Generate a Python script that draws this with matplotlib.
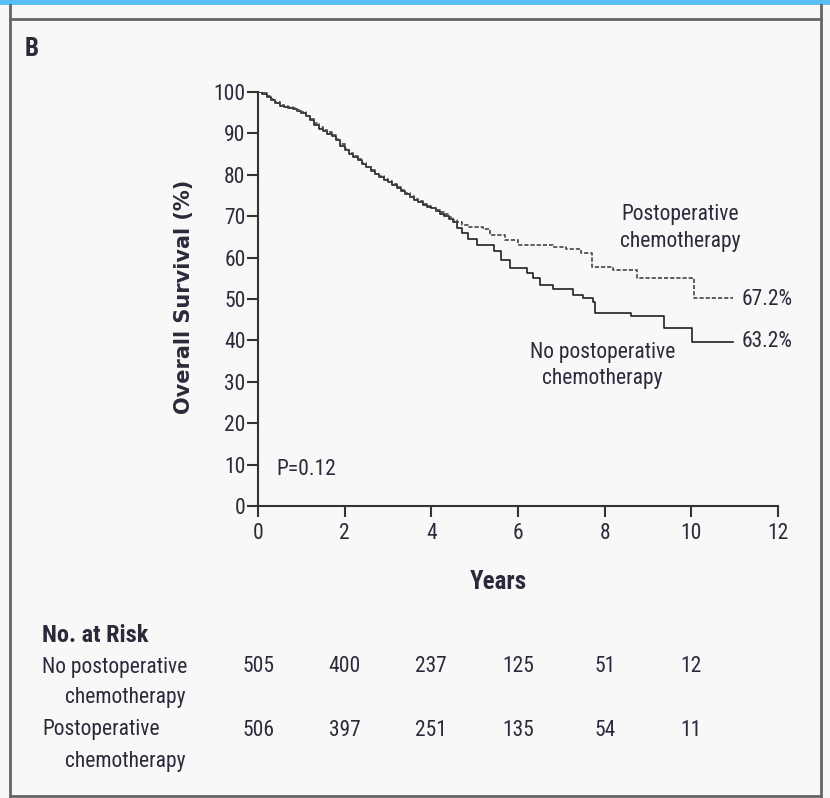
import matplotlib
matplotlib.use("Agg")
import matplotlib.pyplot as plt
from matplotlib import font_manager
from matplotlib.patches import Rectangle
from matplotlib.lines import Line2D
from matplotlib.transforms import blended_transform_factory

# the original uses a condensed face; take the narrowest one that is installed
installed = {f.name for f in font_manager.fontManager.ttflist}
narrow = [n for n in ['Liberation Sans Narrow', 'Roboto Condensed', 'Open Sans Condensed',
                      'DejaVu Sans Condensed', 'Noto Sans Display', 'Roboto', 'Liberation Sans']
          if n in installed]
plt.rcParams['font.family'] = narrow[:1] + ['DejaVu Sans']
plt.rcParams['font.stretch'] = 'condensed'

# curve data (years, % surviving)
t_post = [0, 0.1, 0.2, 0.3, 0.4, 0.5, 0.6, 0.7, 0.8, 0.9, 1.0, 1.1, 1.2, 1.3, 1.4, 1.5,
          1.6, 1.7, 1.8, 1.9, 2.0, 2.1, 2.2, 2.3, 2.4, 2.5, 2.6, 2.7, 2.8, 2.9, 3.0, 3.1,
          3.2, 3.3, 3.4, 3.5, 3.6, 3.7, 3.8, 3.9, 4.0, 4.1, 4.2, 4.3, 4.4, 4.5, 4.6, 4.7,
          4.85, 5.2, 5.36, 5.7, 6.0, 6.8, 7.1, 7.45, 7.7, 8.2, 8.75, 10.05, 10.97]
s_post = [100, 99.7, 99.1, 98.3, 97.5, 96.9, 96.5, 96.4, 96.2, 95.7, 95.1, 94.3, 93.5,
          92.6, 91.6, 90.9, 90.3, 89.6, 88.7, 87.4, 86.2, 85.3, 84.6, 83.7, 82.9, 82.0,
          81.1, 80.3, 79.6, 79.0, 78.4, 77.7, 77.1, 76.3, 75.5, 74.8, 74.1, 73.6, 73.0,
          72.5, 72.1, 71.5, 71.0, 70.5, 69.9, 69.2, 68.5, 67.8, 67.4, 67.0, 65.5, 64.3,
          63.0, 62.6, 62.0, 61.2, 57.8, 57.0, 55.1, 50.2, 50.2]

t_none = [0, 0.1, 0.2, 0.3, 0.4, 0.5, 0.6, 0.7, 0.8, 0.9, 1.0, 1.1, 1.2, 1.3, 1.4, 1.5,
          1.6, 1.7, 1.8, 1.9, 2.0, 2.1, 2.2, 2.3, 2.4, 2.5, 2.6, 2.7, 2.8, 2.9, 3.0, 3.1,
          3.2, 3.3, 3.4, 3.5, 3.6, 3.7, 3.8, 3.9, 4.0, 4.1, 4.2, 4.3, 4.4, 4.5, 4.6, 4.7,
          4.85, 5.06, 5.45, 5.6, 5.82, 6.2, 6.35, 6.5, 6.8, 7.27, 7.5, 7.74, 7.78, 8.6,
          9.38, 10.02, 10.95]
s_none = [100, 99.5, 98.8, 98.0, 97.3, 96.7, 96.3, 96.2, 96.0, 95.5, 94.9, 94.1, 93.3,
          92.1, 91.1, 90.5, 89.9, 89.3, 88.4, 87.0, 85.9, 85.1, 84.4, 83.5, 82.7, 81.8,
          80.9, 80.1, 79.4, 78.8, 78.2, 77.5, 76.9, 76.1, 75.3, 74.6, 73.9, 73.4, 72.8,
          72.3, 71.9, 71.2, 70.6, 70.0, 69.4, 68.5, 67.2, 66.0, 64.5, 63.0, 61.5, 59.4,
          57.5, 56.3, 55.0, 53.3, 52.3, 51.0, 50.2, 49.3, 46.6, 45.8, 43.0, 39.6, 39.6]

risk_years = [0, 2, 4, 6, 8, 10]
risk_none = [505, 400, 237, 125, 51, 12]
risk_post = [506, 397, 251, 135, 54, 11]

txt = '#2a2a3a'
bg = '#f8f8f8'
fs = 15.5

fig = plt.figure(figsize=(8.3, 7.98), dpi=100, facecolor=bg)

# panel frame
fig.add_artist(Rectangle((0, 1 - 5 / 798), 1, 5 / 798, transform=fig.transFigure,
                         color='#5bbff3', lw=0))
for xs, ys in [([10 / 830, 10 / 830], [0, 1 - 5 / 798]),
               ([821 / 830, 821 / 830], [0, 1 - 5 / 798]),
               ([10 / 830, 821 / 830], [1 - 19 / 798, 1 - 19 / 798]),
               ([10 / 830, 821 / 830], [2 / 798, 2 / 798])]:
    fig.add_artist(Line2D(xs, ys, transform=fig.transFigure, color='#666666', lw=2))

fig.text(32 / 830, 1 - 49 / 798, 'B', fontsize=18, fontweight='bold', color=txt,
         va='center', ha='center')

ax = fig.add_axes([258 / 830, 292 / 798, 520 / 830, 414 / 798])
ax.set_facecolor(bg)
ax.step(t_none, s_none, where='post', color='#222222', lw=1.2)
ax.step(t_post, s_post, where='post', color='#444444', lw=1.2, dashes=(2.5, 1.2))

ax.set_xlim(0, 12)
ax.set_ylim(0, 100)
ax.set_xticks(range(0, 13, 2))
ax.set_yticks(range(0, 101, 10))
for s in ['top', 'right']:
    ax.spines[s].set_visible(False)
for s in ['left', 'bottom']:
    ax.spines[s].set_linewidth(1.5)
    ax.spines[s].set_color('#333333')
ax.tick_params(direction='out', length=8, width=1.5, color='#333333',
               labelsize=fs, labelcolor=txt, pad=1)
ax.tick_params(axis='x', pad=4)

ax.text(0.4615, -0.184, 'Years', transform=ax.transAxes, fontsize=18,
        fontweight='bold', color=txt, ha='center', va='center')
ax.text(-0.143, 0.505, 'Overall Survival (%)', transform=ax.transAxes, rotation=90,
        fontsize=15, fontweight='bold', family='DejaVu Sans', stretch='normal',
        color=txt, ha='center', va='center')

ax.text(0.42, 8.7, 'P=0.12', fontsize=fs, color=txt, va='center')
ax.text(9.75, 67.1, 'Postoperative\nchemotherapy', fontsize=fs, color=txt,
        ha='center', va='center', linespacing=1.35)
ax.text(7.95, 33.9, 'No postoperative\nchemotherapy', fontsize=fs, color=txt,
        ha='center', va='center', linespacing=1.35)
ax.text(11.15, 49.8, '67.2%', fontsize=fs, color=txt, va='center')
ax.text(11.15, 39.8, '63.2%', fontsize=fs, color=txt, va='center')

# number at risk table
tr = blended_transform_factory(ax.transData, fig.transFigure)
fig.text(42 / 830, 1 - 635 / 798, 'No. at Risk', fontsize=17.5, fontweight='bold',
         color=txt, va='center')
fig.text(42 / 830, 1 - 667 / 798, 'No postoperative', fontsize=fs, color=txt, va='center')
fig.text(65 / 830, 1 - 697 / 798, 'chemotherapy', fontsize=fs, color=txt, va='center')
fig.text(42 / 830, 1 - 730 / 798, 'Postoperative', fontsize=fs, color=txt, va='center')
fig.text(65 / 830, 1 - 762 / 798, 'chemotherapy', fontsize=fs, color=txt, va='center')
for yr, a, b in zip(risk_years, risk_none, risk_post):
    ax.text(yr, 1 - 667 / 798, str(a), transform=tr, fontsize=fs, color=txt,
            ha='center', va='center')
    ax.text(yr, 1 - 730 / 798, str(b), transform=tr, fontsize=fs, color=txt,
            ha='center', va='center')

fig.savefig('out.png', dpi=100, facecolor=bg)
